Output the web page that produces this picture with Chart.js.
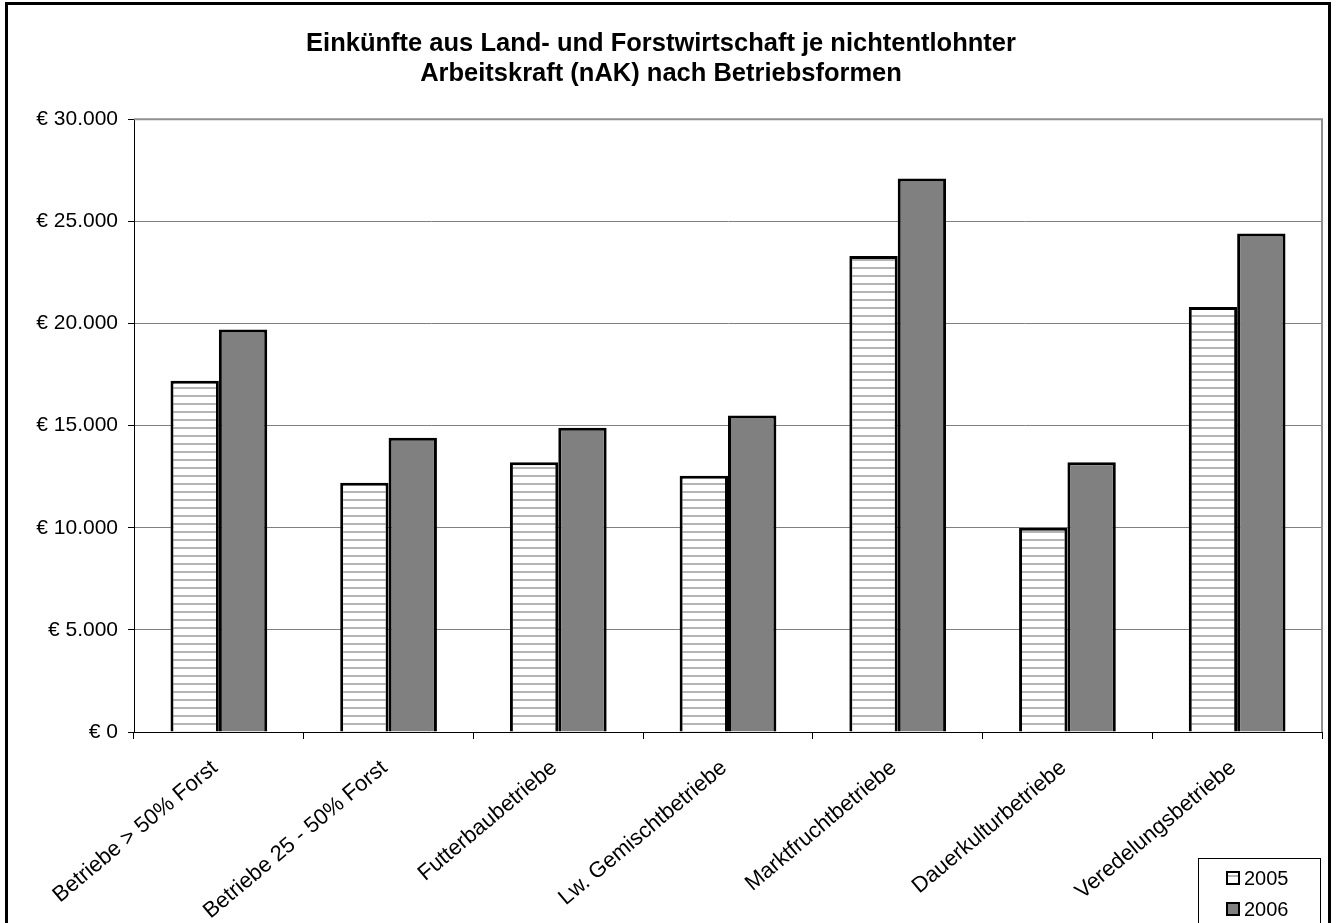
<!DOCTYPE html>
<html lang="de">
<head>
    <meta charset="UTF-8">
    <title>Einkünfte aus Land- und Forstwirtschaft je nAK</title>
    <script src="https://cdn.jsdelivr.net/npm/chart.js"></script>
    <style>
        html, body { margin: 0; padding: 0; background: #fff; overflow: hidden; }
        .frame {
            position: absolute; left: 5px; top: 2px;
            width: 1320px; height: 960px;
            border: 3px solid #000;
        }
        .wrap { position: absolute; left: 0; top: 0; width: 1336px; height: 923px; }
    </style>
</head>
<body>
    <div class="frame"></div>
    <div class="wrap">
        <canvas id="chart" width="1336" height="923"></canvas>
    </div>
    <script>
        const categories = [
            'Betriebe > 50% Forst',
            'Betriebe 25 - 50% Forst',
            'Futterbaubetriebe',
            'Lw. Gemischtbetriebe',
            'Marktfruchtbetriebe',
            'Dauerkulturbetriebe',
            'Veredelungsbetriebe'
        ];
        const values2005 = [17200, 12200, 13200, 12550, 23300, 10000, 20800];
        const values2006 = [19700, 14400, 14900, 15500, 27100, 13200, 24400];
        const seriesLabels = ['2005', '2006'];
        const titleLines = [
            'Einkünfte aus Land- und Forstwirtschaft je nichtentlohnter',
            'Arbeitskraft (nAK) nach Betriebsformen'
        ];

        const FONT = '"Liberation Sans", Arial, sans-serif';

        // horizontal stripes for 2005
        function stripes() {
            const tile = document.createElement('canvas');
            tile.width = 8;
            tile.height = 8;
            const t = tile.getContext('2d');
            t.fillStyle = '#ffffff';
            t.fillRect(0, 0, 8, 8);
            t.fillStyle = '#b4b4b4';
            t.fillRect(0, 3, 8, 2);
            return t.createPattern(tile, 'repeat');
        }

        function euro(v) {
            const s = String(Math.round(v)).replace(/\B(?=(\d{3})+(?!\d))/g, '.');
            return '€ ' + s;
        }

        const frameAndLegend = {
            id: 'frameAndLegend',
            beforeDatasetsDraw(chart) {
                const { ctx, chartArea: a } = chart;
                ctx.save();
                ctx.strokeStyle = '#909090';
                ctx.lineWidth = 2;
                ctx.beginPath();
                ctx.moveTo(a.left, a.top);
                ctx.lineTo(a.right, a.top);
                ctx.lineTo(a.right, a.bottom);
                ctx.stroke();
                ctx.restore();
            },
            afterDraw(chart) {
                const { ctx } = chart;
                const x = 1198, y = 858, w = 122, h = 80;
                ctx.save();
                ctx.fillStyle = '#fff';
                ctx.fillRect(x, y, w, h);
                ctx.strokeStyle = '#000';
                ctx.lineWidth = 1;
                ctx.strokeRect(x + 0.5, y + 0.5, w, h);
                ctx.font = '20px ' + FONT;
                ctx.textBaseline = 'middle';
                chart.data.datasets.forEach((ds, i) => {
                    const cy = y + 20 + i * 31;
                    ctx.fillStyle = ds.backgroundColor;
                    ctx.fillRect(x + 29, cy - 6, 12, 12);
                    ctx.strokeStyle = '#000';
                    ctx.lineWidth = 2;
                    ctx.strokeRect(x + 29, cy - 6, 12, 12);
                    ctx.fillStyle = '#000';
                    ctx.fillText(ds.label, x + 46, cy + 1);
                });
                ctx.restore();
            }
        };

        const ctx = document.getElementById('chart').getContext('2d');
        new Chart(ctx, {
            type: 'bar',
            data: {
                labels: categories,
                datasets: [{
                    label: seriesLabels[0],
                    data: values2005,
                    backgroundColor: stripes(),
                    borderColor: '#000',
                    borderWidth: 3,
                    borderSkipped: 'bottom'
                }, {
                    label: seriesLabels[1],
                    data: values2006,
                    backgroundColor: '#808080',
                    borderColor: '#000',
                    borderWidth: 3,
                    borderSkipped: 'bottom'
                }]
            },
            plugins: [frameAndLegend],
            options: {
                responsive: false,
                animation: false,
                devicePixelRatio: 1,
                layout: { padding: { left: 0, right: 14, top: 0, bottom: 0 } },
                datasets: {
                    bar: { categoryPercentage: 0.57, barPercentage: 1.0 }
                },
                plugins: {
                    legend: { display: false },
                    tooltip: { enabled: false },
                    title: {
                        display: true,
                        text: titleLines,
                        color: '#000',
                        font: { family: FONT, size: 25.5, weight: 'bold', lineHeight: 1.18 },
                        padding: { top: 29, bottom: 30 }
                    }
                },
                scales: {
                    x: {
                        grid: {
                            display: true,
                            drawOnChartArea: false,
                            color: '#000',
                            tickLength: 7,
                            offset: true
                        },
                        border: { color: '#000', width: 1 },
                        ticks: {
                            color: '#000',
                            font: { family: FONT, size: 22 },
                            minRotation: 40,
                            maxRotation: 40,
                            autoSkip: false,
                            padding: 16,
                            labelOffset: -4
                        },
                        afterFit(scale) { scale.height = 191; }
                    },
                    y: {
                        min: 0,
                        max: 30000,
                        ticks: {
                            stepSize: 5000,
                            color: '#000',
                            font: { family: FONT, size: 21 },
                            padding: 10,
                            callback: v => euro(v)
                        },
                        grid: { color: '#808080', lineWidth: 1, tickLength: 6, tickColor: '#000' },
                        border: { color: '#000', width: 1 },
                        afterFit(scale) { scale.width = 134; }
                    }
                }
            }
        });
    </script>
</body>
</html>
